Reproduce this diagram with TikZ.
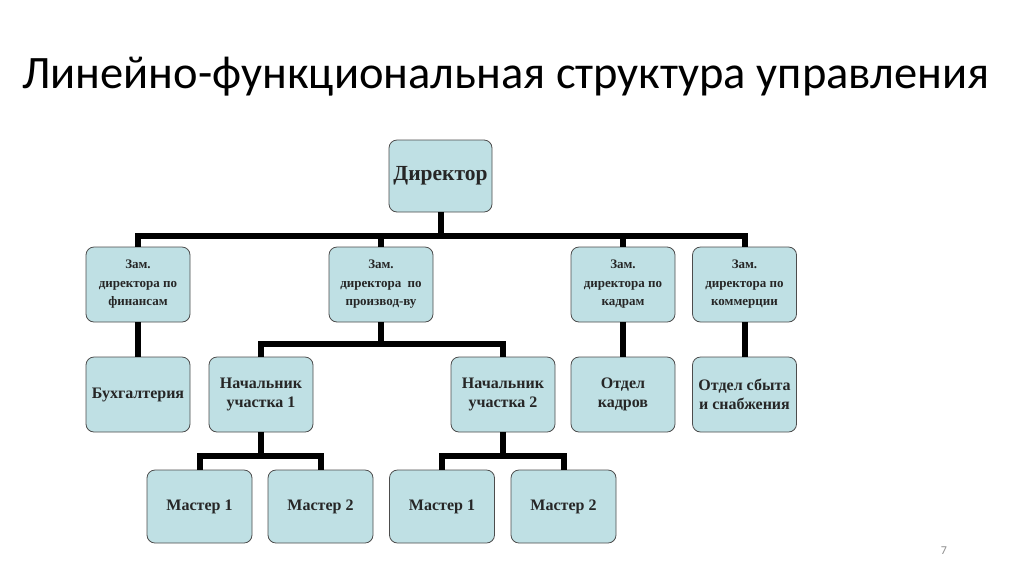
\documentclass[tikz,border=0pt]{standalone}
\usepackage{fontspec}
\setmainfont{Liberation Serif}
\newfontfamily\titlefont{Carlito}

\begin{document}
\begin{tikzpicture}
[x=1pt,y=-1pt,
	unit/.style={draw=black!70,line width=0.8pt,fill=boxblue,rounded corners=8pt,
		minimum width=104pt,minimum height=75pt,align=center,inner sep=2pt,
		font=\fontsize{13}{18.5}\selectfont\bfseries,text=black!85},
	head/.style={unit,minimum width=103pt,minimum height=72pt,font=\fontsize{21.5}{24}\selectfont\bfseries},
	lower/.style={unit,font=\fontsize{16}{19}\selectfont\bfseries},
	master/.style={lower,minimum width=105pt,minimum height=73pt},
	link/.style={line width=6pt,line join=miter}]
\definecolor{boxblue}{RGB}{191,224,228}
\useasboundingbox (0,0) rectangle (1024,574);

% title and page number
\node[anchor=base west,inner sep=0pt,font=\titlefont\fontsize{46.5}{50}\selectfont] (title) at (22,88)
	{Линейно-функциональная структура управления};
\node[font=\titlefont\fontsize{12}{14}\selectfont,text=black!45] (pagenum) at (944,551) {7};

% boxes
\node[head] (dir) at (440.5,176) {Директор};

\node[unit] (fin) at (138,284.5) {Зам.\\директора по\\финансам};
\node[unit] (prod) at (381,284.5) {Зам.\\директора~ по\\производ-ву};
\node[unit] (kadr) at (623,284.5) {Зам.\\директора по\\кадрам};
\node[unit] (comm) at (744.5,284.5) {Зам.\\директора по\\коммерции};

\node[lower] (acc) at (138,394.5) {Бухгалтерия};
\node[lower] (chief1) at (261,394.5) {Начальник\\участка 1};
\node[lower] (chief2) at (503,394.5) {Начальник\\участка 2};
\node[lower] (hr) at (623,394.5) {Отдел\\кадров};
\node[lower] (sales) at (744.5,394.5) {Отдел сбыта\\и снабжения};

\node[master] (m1a) at (199.5,506.5) {Мастер 1};
\node[master] (m2a) at (320.5,506.5) {Мастер 2};
\node[master] (m1b) at (442,506.5) {Мастер 1};
\node[master] (m2b) at (563.5,506.5) {Мастер 2};

% connectors
\coordinate (bus1) at (440.5,236);
\coordinate (bus2) at (381,344);
\coordinate (bus3) at (261,456);
\coordinate (bus4) at (503,456);

\draw[link] (dir.south) -- (bus1);
\draw[link] (fin.north) -- (fin.north |- bus1) -| (comm.north);
\draw[link] (prod.north) -- (prod.north |- bus1);
\draw[link] (kadr.north) -- (kadr.north |- bus1);

\draw[link] (fin.south) -- (acc.north);
\draw[link] (kadr.south) -- (hr.north);
\draw[link] (comm.south) -- (sales.north);

\draw[link] (prod.south) -- (bus2);
\draw[link] (chief1.north) -- (chief1.north |- bus2) -| (chief2.north);

\draw[link] (chief1.south) -- (bus3);
\draw[link] (m1a.north) -- (m1a.north |- bus3) -| (m2a.north);
\draw[link] (chief2.south) -- (bus4);
\draw[link] (m1b.north) -- (m1b.north |- bus4) -| (m2b.north);
\end{tikzpicture}
\end{document}
